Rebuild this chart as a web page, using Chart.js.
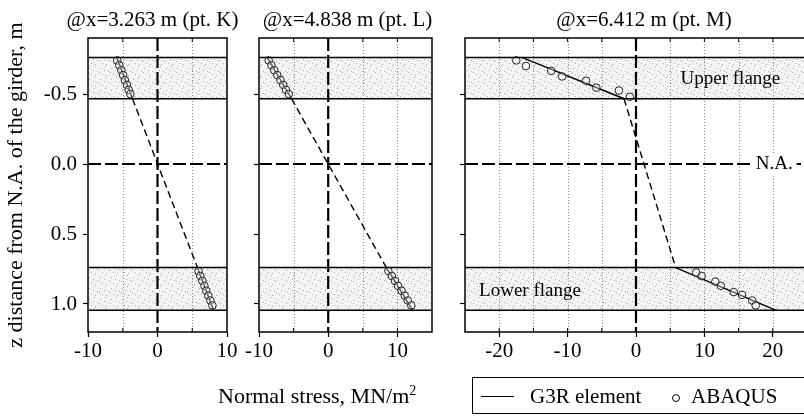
<!DOCTYPE html>
<html>
<head>
<meta charset="utf-8">
<script src="https://cdn.jsdelivr.net/npm/chart.js@4.4.0/dist/chart.umd.min.js"></script>
<style>
  html, body { margin: 0; padding: 0; background: #fff; }
  body { width: 804px; height: 416px; position: relative; overflow: hidden; font-family: "Liberation Serif", serif; color: #000; }
  canvas { position: absolute; top: 0; }
  #xTitle { position: absolute; left: 218px; top: 383px; font-size: 22px; white-space: nowrap; }
  #xTitle sup { font-size: 14px; }
  #legend { position: absolute; left: 472px; top: 377px; width: 345px; height: 37px; border: 1px solid #000; box-sizing: border-box; font-size: 21px; }
  #legend .ln { position: absolute; left: 8px; top: 18px; width: 33px; border-top: 1.5px solid #000; }
  #legend .t1 { position: absolute; left: 57px; top: 6px; white-space: nowrap; }
  #legend .pt { position: absolute; left: 199px; top: 16px; width: 6px; height: 6px; border: 1px solid #000; border-radius: 50%; }
  #legend .t2 { position: absolute; left: 218px; top: 6px; white-space: nowrap; }
</style>
</head>
<body>
<canvas id="panelK" width="240" height="416" style="left:0"></canvas>
<canvas id="panelL" width="210" height="416" style="left:232px"></canvas>
<canvas id="panelM" width="372" height="416" style="left:440px"></canvas>
<div id="xTitle">Normal stress, MN/m<sup>2</sup></div>
<div id="legend"><span class="ln"></span><span class="t1">G3R element</span><span class="pt"></span><span class="t2">ABAQUS</span></div>
<script>
// z axis (distance from N.A., m), shared by the three panels
const zRange = [-0.9, 1.2];
const zTicks = [-0.5, 0, 0.5, 1.0];
const flangeZ = [-0.76, -0.466, 0.74, 1.045];   // upper flange top/bottom, lower flange top/bottom

// G3R element: stress at the flange edges (z = flangeZ)
const g3rK = [-5.85, -3.6, 5.75, 8.05];
const g3rL = [-8.8, -5.3, 8.4, 12.2];
const g3rM = [-16.6, -1.75, 5.8, 20.5];

// ABAQUS points
const abqZ = [-0.74, -0.705, -0.67, -0.635, -0.60, -0.565, -0.53, -0.50,
              0.765, 0.80, 0.835, 0.87, 0.905, 0.94, 0.975, 1.01];
const abqK = [-5.8, -5.5, -5.2, -4.95, -4.7, -4.4, -4.15, -3.9,
              5.9, 6.15, 6.45, 6.75, 7.0, 7.3, 7.6, 7.9];
const abqL = [-8.6, -8.2, -7.8, -7.35, -6.9, -6.5, -6.1, -5.7,
              8.7, 9.2, 9.65, 10.1, 10.6, 11.05, 11.5, 12.0];
const abqMz = [-0.74, -0.70, -0.665, -0.625, -0.595, -0.545, -0.525, -0.48,
               0.775, 0.80, 0.84, 0.87, 0.915, 0.935, 0.975, 1.01];
const abqM = [-17.5, -16.1, -12.4, -10.8, -7.3, -5.8, -2.5, -0.9,
              8.8, 9.6, 11.6, 12.4, 14.3, 15.5, 17.0, 17.5];

// stress axes
const rangeK = [-10, 10], ticksK = [-10, 0, 10], minorK = [-5, 5];
const rangeL = [-10, 15], ticksL = [-10, 0, 10], minorL = [-5, 5];
const rangeM = [-25, 25], ticksM = [-20, -10, 0, 10, 20], minorM = [-15, -5, 5, 15];

const titles = ['@x=3.263 m (pt. K)', '@x=4.838 m (pt. L)', '@x=6.412 m (pt. M)'];
const zTitle = 'z distance from N.A. of the girder, m';

const FONT = 'Liberation Serif';

function pts(xs, zs) {
  return xs.map((x, i) => ({ x, y: zs[i] }));
}

function stipple(ctx) {
  const c = document.createElement('canvas');
  c.width = 11; c.height = 11;
  const g = c.getContext('2d');
  g.fillStyle = '#f4f4f4';
  g.fillRect(0, 0, 11, 11);
  g.fillStyle = '#aaaaaa';
  [[1, 2], [6, 0], [9, 5], [3, 8], [7, 9], [0, 6], [5, 4]].forEach(([x, y]) => g.fillRect(x, y, 1, 1));
  return ctx.createPattern(c, 'repeat');
}

const framePlugin = {
  id: 'frame',
  beforeDraw(chart) {
    const { ctx, chartArea: a, scales: { x, y } } = chart;
    ctx.save();
    ctx.fillStyle = stipple(ctx);
    const y0 = y.getPixelForValue(flangeZ[0]), y1 = y.getPixelForValue(flangeZ[1]);
    const y2 = y.getPixelForValue(flangeZ[2]), y3 = y.getPixelForValue(flangeZ[3]);
    ctx.fillRect(a.left, y0, a.width, y1 - y0);
    ctx.fillRect(a.left, y2, a.width, y3 - y2);
    // dotted vertical grid
    ctx.strokeStyle = '#8c8c8c';
    ctx.lineWidth = 1;
    ctx.setLineDash([1, 2]);
    chart.options.plugins.frame.grid.forEach(v => {
      const px = Math.round(x.getPixelForValue(v)) + 0.5;
      ctx.beginPath(); ctx.moveTo(px, a.top); ctx.lineTo(px, a.bottom); ctx.stroke();
    });
    ctx.restore();
  },
  afterDatasetsDraw(chart) {
    const { ctx, chartArea: a, scales: { x, y } } = chart;
    const opts = chart.options.plugins.frame;
    ctx.save();
    ctx.strokeStyle = '#000';
    ctx.lineWidth = 1.5;
    flangeZ.forEach(z => {
      const py = y.getPixelForValue(z);
      ctx.beginPath(); ctx.moveTo(a.left, py); ctx.lineTo(a.right, py); ctx.stroke();
    });
    ctx.strokeRect(a.left, a.top, a.width, a.height);
    // small inner ticks at minor positions
    ctx.lineWidth = 1;
    opts.grid.forEach(v => {
      const px = x.getPixelForValue(v);
      ctx.beginPath();
      ctx.moveTo(px, a.bottom); ctx.lineTo(px, a.bottom - 4);
      ctx.moveTo(px, a.top); ctx.lineTo(px, a.top + 4);
      ctx.stroke();
    });
    // panel title (no maxWidth, so it may be wider than the plot)
    ctx.fillStyle = '#000';
    ctx.textBaseline = 'middle';
    ctx.textAlign = 'center';
    ctx.font = '21px "' + FONT + '"';
    ctx.fillText(opts.title, (a.left + a.right) / 2 + opts.titleShift, 20);
    // text labels inside panel
    ctx.font = '19px "' + FONT + '"';
    (opts.labels || []).forEach(l => {
      const px = x.getPixelForValue(l.x), py = y.getPixelForValue(l.y);
      if (l.clear) {
        const w = ctx.measureText(l.text).width;
        ctx.fillStyle = '#fff';
        ctx.fillRect(px - w / 2 - 4, py - 10, w + 8, 20);
      }
      ctx.fillStyle = '#000';
      ctx.fillText(l.text, px, py);
    });
    ctx.restore();
  }
};

function makePanel(id, opt) {
  const { range, ticks, minor, g3r, abqX, abqZs, title, titleShift, axisWidth, padRight, showZ, labels } = opt;
  const heavy = { showLine: true, borderColor: '#000', borderWidth: 2.2, borderDash: [13, 4], pointRadius: 0, order: 3 };
  new Chart(document.getElementById(id), {
    type: 'scatter',
    data: {
      datasets: [
        Object.assign({ label: 'N.A.', data: [{ x: range[0], y: 0 }, { x: range[1], y: 0 }] }, heavy),
        Object.assign({ label: 'zero', data: [{ x: 0, y: zRange[0] }, { x: 0, y: zRange[1] }] }, heavy),
        {
          label: 'G3R element',
          data: pts(g3r, flangeZ),
          showLine: true,
          borderColor: '#000',
          borderWidth: 1.4,
          pointRadius: 0,
          segment: { borderDash: c => c.p0DataIndex === 1 ? [7, 4] : undefined },
          order: 2
        },
        {
          label: 'ABAQUS',
          data: pts(abqX, abqZs),
          pointStyle: 'circle',
          pointRadius: 3.8,
          pointBorderWidth: 1,
          pointBorderColor: '#222',
          pointBackgroundColor: 'rgba(255,255,255,0.35)',
          order: 1
        }
      ]
    },
    options: {
      responsive: false,
      animation: false,
      events: [],
      layout: { padding: { left: 0, right: padRight, top: 38, bottom: 0 } },
      plugins: {
        legend: { display: false },
        tooltip: { enabled: false },
        frame: {
          grid: minor.concat(ticks.filter(v => v !== 0 && v > range[0] && v < range[1])),
          labels, title, titleShift
        }
      },
      scales: {
        x: {
          type: 'linear', min: range[0], max: range[1],
          afterBuildTicks: s => { s.ticks = ticks.map(v => ({ value: v })); },
          afterFit: s => { s.height = 84; },
          border: { display: false },
          grid: { drawOnChartArea: false, drawTicks: true, tickLength: 5, tickColor: '#000', tickWidth: 1.2 },
          ticks: { autoSkip: false, maxRotation: 0, padding: 2, color: '#000', font: { family: FONT, size: 21 } }
        },
        y: {
          type: 'linear', reverse: true, min: zRange[0], max: zRange[1],
          afterBuildTicks: s => { s.ticks = zTicks.map(v => ({ value: v })); },
          afterFit: s => { s.width = axisWidth; },
          border: { display: false },
          grid: { drawOnChartArea: false, drawTicks: true, tickLength: 5, tickColor: '#000', tickWidth: 1.2 },
          ticks: { display: showZ, padding: 6, color: '#000', font: { family: FONT, size: 21 }, callback: v => v.toFixed(1) },
          title: { display: showZ, text: zTitle, color: '#000', font: { family: FONT, size: 22 }, padding: { top: 3, bottom: 0 } }
        }
      }
    },
    plugins: [framePlugin]
  });
}

makePanel('panelK', { range: rangeK, ticks: ticksK, minor: minorK, g3r: g3rK, abqX: abqK, abqZs: abqZ,
  title: titles[0], titleShift: -5, axisWidth: 88, padRight: 13, showZ: true });
makePanel('panelL', { range: rangeL, ticks: ticksL, minor: minorL, g3r: g3rL, abqX: abqL, abqZs: abqZ,
  title: titles[1], titleShift: 2, axisWidth: 27, padRight: 10, showZ: false });
makePanel('panelM', { range: rangeM, ticks: ticksM, minor: minorM, g3r: g3rM, abqX: abqM, abqZs: abqMz,
  title: titles[2], titleShift: 8, axisWidth: 25, padRight: 4, showZ: false,
  labels: [
    { text: 'Upper flange', x: 13.8, y: -0.605 },
    { text: 'Lower flange', x: -15.5, y: 0.905 },
    { text: 'N.A.', x: 20.2, y: 0, clear: true }
  ] });
</script>
</body>
</html>
